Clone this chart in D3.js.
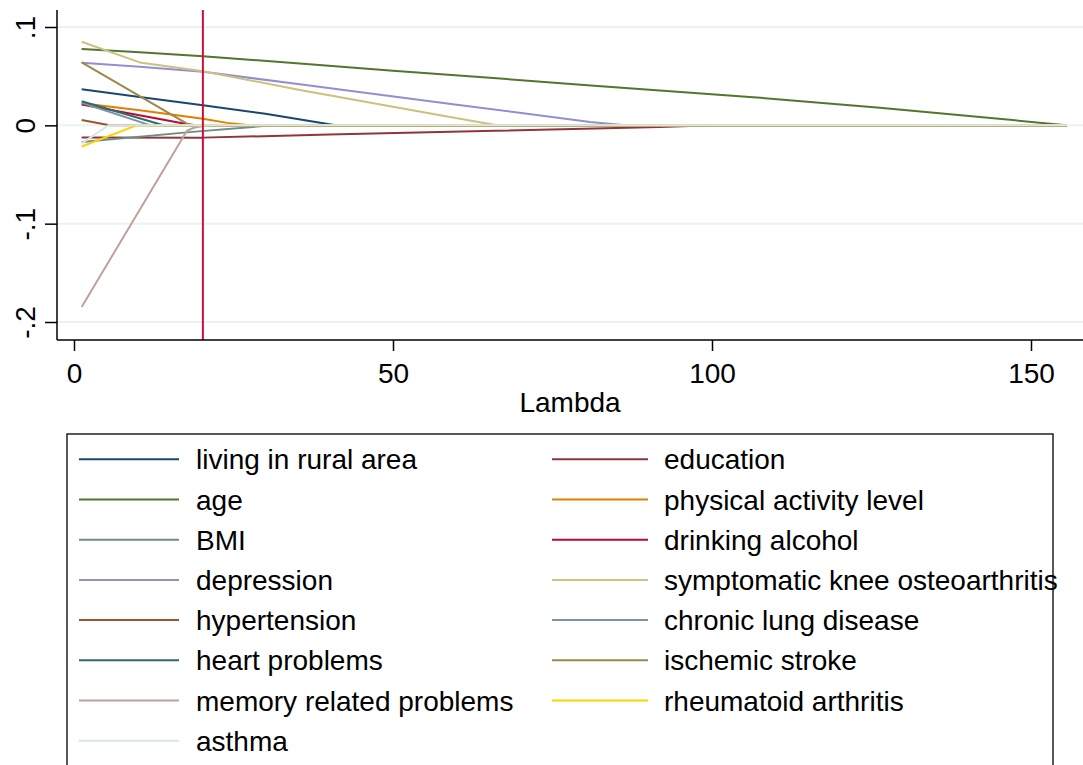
<!DOCTYPE html>
<html><head><meta charset="utf-8">
<script src="https://cdn.jsdelivr.net/npm/d3@7"></script>
<style>
html,body{margin:0;padding:0;background:#fff;overflow:hidden;}
svg{display:block;font-family:"Liberation Sans",Arial,sans-serif;}
</style></head>
<body>
<svg id="chart" width="1083" height="765"></svg>
<script>
// ---- data ----
const seriesNames = ["living in rural area","education","age","physical activity level","BMI","drinking alcohol","depression","symptomatic knee osteoarthritis","hypertension","chronic lung disease","heart problems","ischemic stroke","memory related problems","rheumatoid arthritis","asthma"];
const seriesColors = ["#1a476f","#90353b","#55752f","#e37e00","#6e8e84","#c10534","#938dd2","#cac27e","#a0522d","#7b92a8","#2d6d66","#9c8847","#bfa19c","#ffd200","#d9e6eb"];

const ruralLambda = [1.2, 10.3, 20.2, 30, 38.6, 41, 155.6];
const ruralCoef   = [0.0367, 0.0289, 0.0204, 0.0118, 0.0027, 0, 0];
const educationLambda = [1.2, 20.2, 40, 66, 91.8, 100, 155.6];
const educationCoef   = [-0.0124, -0.0125, -0.0094, -0.0056, -0.0017, 0, 0];
const ageLambda = [1.2, 10.3, 20.2, 35.4, 50, 66.8, 81, 105.9, 126.3, 142, 153, 155.6];
const ageCoef   = [0.0776, 0.0742, 0.0703, 0.063, 0.0555, 0.0476, 0.0405, 0.0289, 0.018, 0.0085, 0.0017, 0];
const physicalLambda = [1.2, 10.3, 20.2, 24, 27.5, 155.6];
const physicalCoef   = [0.0225, 0.0153, 0.0068, 0.0025, 0, 0];
const bmiLambda = [1.2, 19, 31, 155.6];
const bmiCoef   = [-0.017, -0.0064, 0, 0];
const alcoholLambda = [1.2, 17.4, 18.5, 155.6];
const alcoholCoef   = [0.0211, 0.0017, 0, 0];
const depressionLambda = [1.2, 10.3, 20.2, 35.4, 60, 80.9, 86.4, 155.6];
const depressionCoef   = [0.0636, 0.0595, 0.0544, 0.0418, 0.021, 0.0034, 0, 0];
const kneeLambda = [1.2, 10.3, 20.2, 35.4, 57.4, 62.5, 66.3, 155.6];
const kneeCoef   = [0.085, 0.064, 0.055, 0.036, 0.0102, 0.0045, 0, 0];
const hypertensionLambda = [1.2, 5.6, 155.6];
const hypertensionCoef   = [0.0054, 0, 0];
const lungLambda = [1.2, 12, 155.6];
const lungCoef   = [0.023, 0, 0];
const heartLambda = [1.2, 14, 155.6];
const heartCoef   = [0.0245, 0, 0];
const strokeLambda = [1.2, 17.7, 19, 155.6];
const strokeCoef   = [0.064, 0.0017, 0, 0];
const memoryLambda = [1.2, 17.7, 18.8, 20.2, 21.5, 155.6];
const memoryCoef   = [-0.1847, -0.0055, -0.0025, -0.0008, 0, 0];
const rheumLambda = [1.2, 9.8, 155.6];
const rheumCoef   = [-0.0215, 0, 0];
const asthmaLambda = [1.2, 5.4, 155.6];
const asthmaCoef   = [-0.0184, 0, 0];

const lambdaArrays = [ruralLambda, educationLambda, ageLambda, physicalLambda, bmiLambda, alcoholLambda, depressionLambda, kneeLambda, hypertensionLambda, lungLambda, heartLambda, strokeLambda, memoryLambda, rheumLambda, asthmaLambda];
const coefArrays = [ruralCoef, educationCoef, ageCoef, physicalCoef, bmiCoef, alcoholCoef, depressionCoef, kneeCoef, hypertensionCoef, lungCoef, heartCoef, strokeCoef, memoryCoef, rheumCoef, asthmaCoef];

const xTicks = [0, 50, 100, 150];
const xTickLabels = ["0", "50", "100", "150"];
const yTicks = [0.1, 0, -0.1, -0.2];
const yTickLabels = [".1", "0", "-.1", "-.2"];
const selectedLambda = 20.2;
const xTitle = "Lambda";
// legend order (Stata fills rows: left column = odd items, right column = even items)

// ---- layout ----
const svg = d3.select("#chart");
const x = d3.scaleLinear().domain([0, 150]).range([74, 1031]);
const y = d3.scaleLinear().domain([-0.2, 0.1]).range([322, 27]);
const plotLeft = 57, plotRight = 1083, plotTop = 10, plotBottom = 340;
const FS = 28;

// gridlines
svg.append("g").selectAll("line").data(yTicks).join("line")
  .attr("x1", plotLeft).attr("x2", plotRight)
  .attr("y1", d => y(d)).attr("y2", d => y(d))
  .attr("stroke", "#eaf2f3").attr("stroke-width", 2);

// series
const line = d3.line().x(d => x(d[0])).y(d => y(d[1]));
const seriesData = seriesNames.map((n, i) => ({name: n, color: seriesColors[i], pts: lambdaArrays[i].map((l, j) => [l, coefArrays[i][j]])}));
svg.append("g").selectAll("path").data(seriesData).join("path")
  .attr("d", d => line(d.pts))
  .attr("fill", "none").attr("stroke", d => d.color).attr("stroke-width", 2)
  .attr("stroke-linejoin", "round");

// selected lambda line
svg.append("line")
  .attr("x1", x(selectedLambda)).attr("x2", x(selectedLambda))
  .attr("y1", plotTop).attr("y2", plotBottom)
  .attr("stroke", "#c8103a").attr("stroke-width", 2);

// y axis
const yAxis = d3.axisLeft(y).tickValues(yTicks).tickSize(12)
  .tickFormat((d, i) => yTickLabels[i]);
const gy = svg.append("g").attr("transform", `translate(${plotLeft},0)`).call(yAxis);
gy.select(".domain").remove();
gy.selectAll(".tick line").attr("stroke", "#000").attr("stroke-width", 1.5);
gy.selectAll(".tick text")
  .attr("font-size", FS).attr("fill", "#000")
  .attr("font-family", "Liberation Sans, Arial, sans-serif")
  .attr("text-anchor", "middle")
  .attr("x", null).attr("dy", null)
  .attr("transform", "translate(-22,0) rotate(-90)")
  .attr("y", 0);
svg.append("line").attr("x1", plotLeft).attr("x2", plotLeft)
  .attr("y1", plotTop).attr("y2", plotBottom)
  .attr("stroke", "#000").attr("stroke-width", 1.5);

// x axis
const xAxis = d3.axisBottom(x).tickValues(xTicks).tickSize(11)
  .tickFormat((d, i) => xTickLabels[i]);
const gx = svg.append("g").attr("transform", `translate(0,${plotBottom})`).call(xAxis);
gx.select(".domain").remove();
gx.selectAll(".tick line").attr("stroke", "#000").attr("stroke-width", 1.5);
gx.selectAll(".tick text")
  .attr("font-size", FS).attr("fill", "#000")
  .attr("font-family", "Liberation Sans, Arial, sans-serif")
  .attr("dy", null).attr("y", 43);
svg.append("line").attr("x1", plotLeft).attr("x2", plotRight)
  .attr("y1", plotBottom).attr("y2", plotBottom)
  .attr("stroke", "#000").attr("stroke-width", 1.5);

svg.append("text").attr("x", (plotLeft + plotRight) / 2).attr("y", 412)
  .attr("text-anchor", "middle").attr("font-size", FS).attr("fill", "#000")
  .text(xTitle);

// legend
const lg = svg.append("g");
lg.append("rect").attr("x", 67).attr("y", 434).attr("width", 986).attr("height", 360)
  .attr("fill", "#fff").attr("stroke", "#222").attr("stroke-width", 1.5);
const colX = [{l1: 79, l2: 179, t: 196}, {l1: 552, l2: 648, t: 664}];
const items = lg.selectAll("g.item").data(seriesData).join("g").attr("class", "item")
  .attr("transform", (d, i) => `translate(0,${459.3 + Math.floor(i / 2) * 40.2})`);
items.append("line")
  .attr("x1", (d, i) => colX[i % 2].l1).attr("x2", (d, i) => colX[i % 2].l2)
  .attr("y1", 0).attr("y2", 0)
  .attr("stroke", d => d.color).attr("stroke-width", 2);
items.append("text")
  .attr("x", (d, i) => colX[i % 2].t).attr("y", 10)
  .attr("font-size", FS).attr("fill", "#000")
  .text(d => d.name);
</script>
</body></html>
